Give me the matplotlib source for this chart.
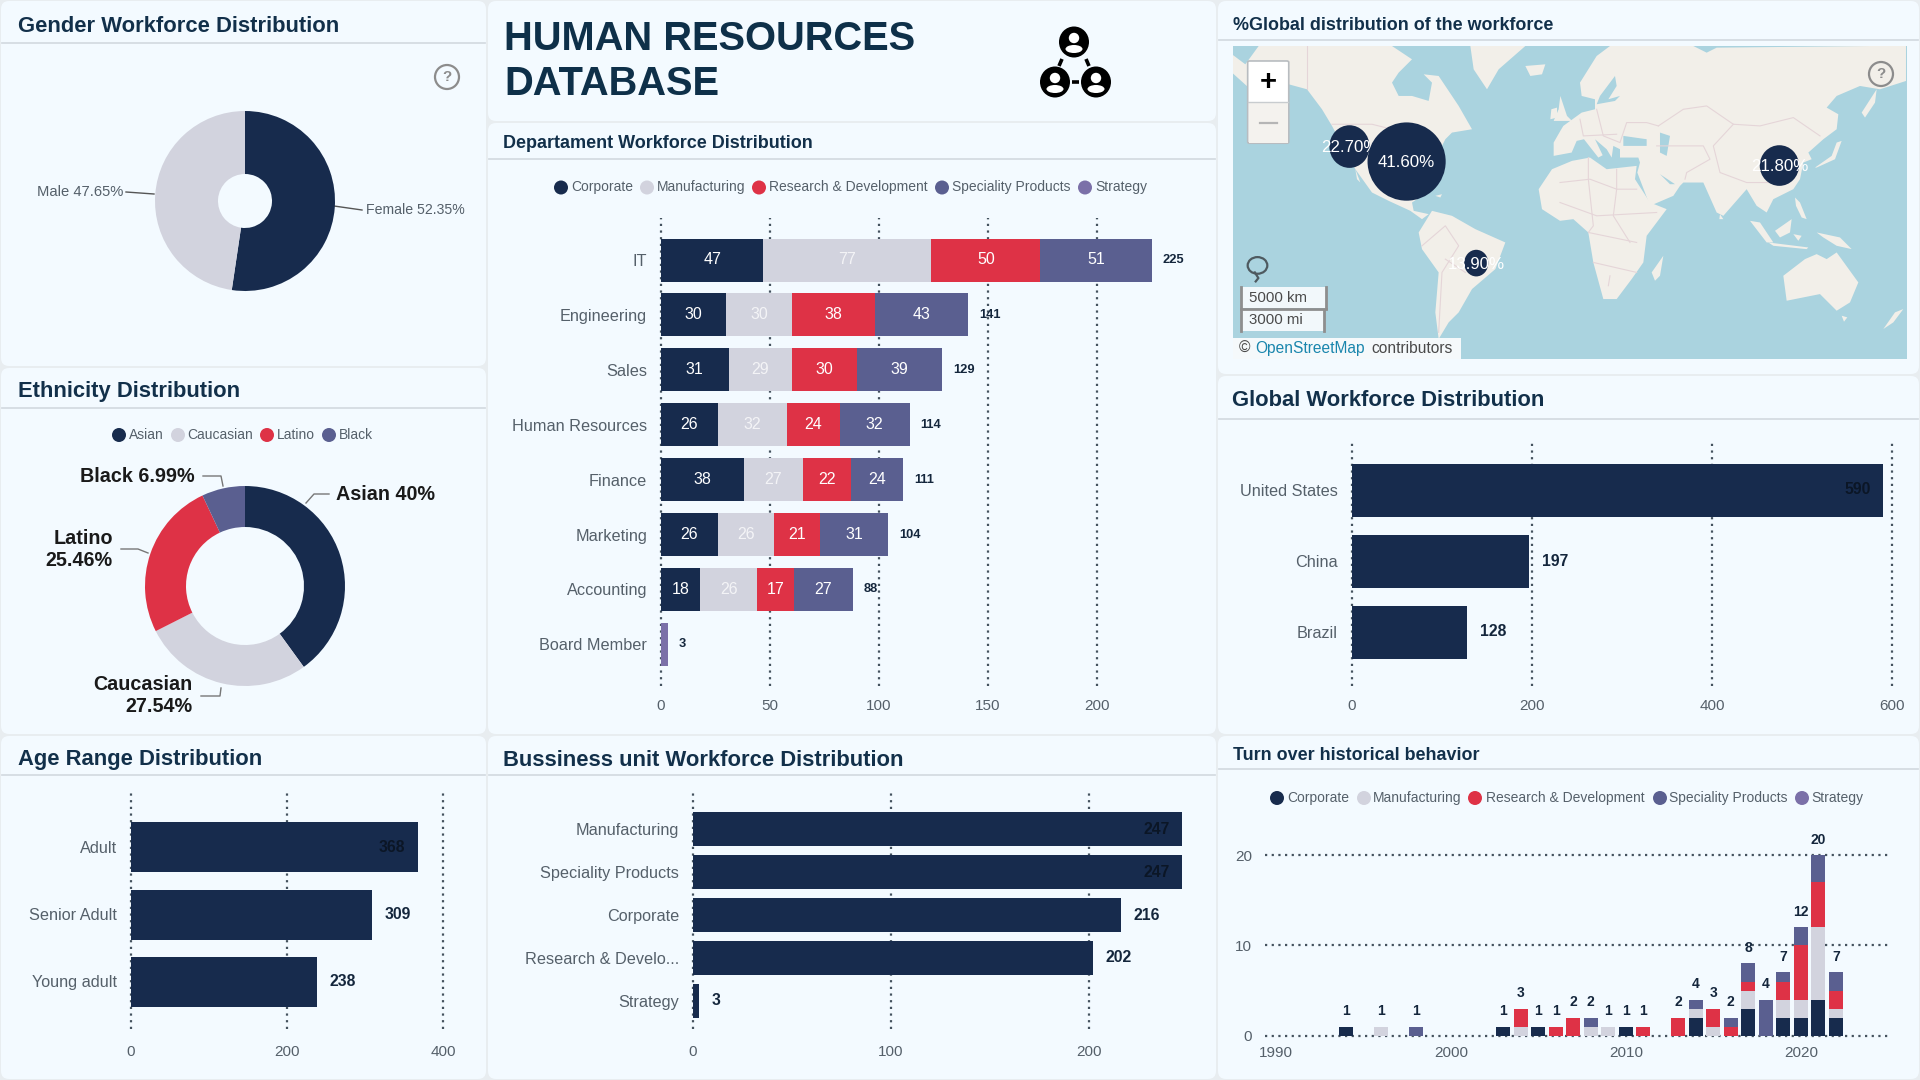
import matplotlib
matplotlib.use("Agg")
import matplotlib.pyplot as plt
from matplotlib.patches import FancyBboxPatch, Circle, Ellipse, Polygon, Rectangle
import numpy as np

plt.rcParams['font.family'] = ['Liberation Sans', 'DejaVu Sans']

NAVY, LIGHT, RED, SLATE, PURPLE = '#172B4D', '#D2D3DE', '#DE3246', '#5A5F90', '#7B70A8'
PANEL, GAP = '#F3FAFF', '#E8EDF0'
TITLE_C, TICK_C, GRID_C = '#12304A', '#55606A', '#44525E'
DOTS = (0, (1, 2))

# ---------- data ----------
gender_labels = ['Female', 'Male']
gender_values = [52.35, 47.65]

eth_labels = ['Asian', 'Caucasian', 'Latino', 'Black']
eth_values = [40.0, 27.54, 25.46, 6.99]

units = ['Corporate', 'Manufacturing', 'Research & Development', 'Speciality Products', 'Strategy']

dept_names = ['IT', 'Engineering', 'Sales', 'Human Resources', 'Finance', 'Marketing', 'Accounting', 'Board Member']
dept_corporate = [47, 30, 31, 26, 38, 26, 18, 0]
dept_manufacturing = [77, 30, 29, 32, 27, 26, 26, 0]
dept_research = [50, 38, 30, 24, 22, 21, 17, 0]
dept_speciality = [51, 43, 39, 32, 24, 31, 27, 0]
dept_strategy = [0, 0, 0, 0, 0, 0, 0, 3]

age_names = ['Adult', 'Senior Adult', 'Young adult']
age_values = [368, 309, 238]

bu_names = ['Manufacturing', 'Speciality Products', 'Corporate', 'Research & Develo...', 'Strategy']
bu_values = [247, 247, 216, 202, 3]

country_names = ['United States', 'China', 'Brazil']
country_values = [590, 197, 128]

map_labels = ['41.60%', '22.70%', '21.80%', '13.90%']

years = [1994, 1996, 1998, 2003, 2004, 2005, 2006, 2007, 2008, 2009, 2010, 2011,
         2013, 2014, 2015, 2016, 2017, 2018, 2019, 2020, 2021, 2022]
turn_corporate = [1, 0, 0, 1, 0, 1, 0, 0, 0, 0, 1, 0, 0, 2, 0, 0, 3, 0, 2, 2, 4, 2]
turn_manufacturing = [0, 1, 0, 0, 1, 0, 0, 0, 1, 1, 0, 0, 0, 1, 1, 0, 2, 0, 2, 2, 8, 1]
turn_research = [0, 0, 0, 0, 2, 0, 1, 2, 0, 0, 0, 1, 2, 0, 2, 1, 1, 0, 2, 6, 5, 2]
turn_speciality = [0, 0, 1, 0, 0, 0, 0, 0, 1, 0, 0, 0, 0, 1, 0, 1, 2, 4, 1, 2, 3, 2]

# ---------- frame ----------
fig = plt.figure(figsize=(19.2, 10.8), dpi=100, facecolor=GAP)
bg = fig.add_axes([0, 0, 1, 1], zorder=0)
bg.set_xlim(0, 1920); bg.set_ylim(1080, 0); bg.axis('off')


def px_axes(l, t, r, b, z=2):
    ax = fig.add_axes([l / 1920, 1 - b / 1080, (r - l) / 1920, (b - t) / 1080], zorder=z)
    ax.patch.set_alpha(0)
    return ax


def panel(l, t, r, b, sep=None, title=None, size=14.3, ty=None, tx=None):
    bg.add_patch(FancyBboxPatch((l + 5, t + 5), r - l - 10, b - t - 10,
                                boxstyle='round,pad=4,rounding_size=8', fc=PANEL, ec='none'))
    if sep:
        bg.plot([l + 2, r - 2], [sep, sep], color='#D5DCE2', lw=1.3)
    if title:
        bg.text(tx, ty, title, fontsize=size, fontweight='bold', color=TITLE_C, va='center', ha='left')


panel(0, 0, 487, 367, 43, 'Gender Workforce Distribution', 15.8, 27, 18)
panel(0, 367, 487, 735, 408, 'Ethnicity Distribution', 15.8, 392, 18)
panel(0, 735, 487, 1080, 775, 'Age Range Distribution', 15.8, 760, 18)
panel(487, 0, 1217, 122)
panel(487, 122, 1217, 735, 159, 'Departament Workforce Distribution', 13, 144, 503)
panel(487, 735, 1217, 1080, 775, 'Bussiness unit Workforce Distribution', 15.8, 760, 503)
panel(1217, 0, 1920, 375, 40, '%Global distribution of the workforce', 12.9, 25, 1233)
panel(1217, 375, 1920, 735, 419, 'Global Workforce Distribution', 15.8, 400, 1232)
panel(1217, 735, 1920, 1080, 769, 'Turn over historical behavior', 12.9, 756, 1233)

# header
bg.text(504, 39, 'HUMAN RESOURCES', fontsize=28.7, fontweight='bold', color='#0E3049', va='center')
bg.text(504, 84, 'DATABASE', fontsize=28.7, fontweight='bold', color='#0E3049', va='center')
for cx, cy in [(1074, 42), (1055, 82), (1096, 82)]:
    bg.add_patch(Ellipse((cx, cy), 30, 31, fc='black', ec='none'))
    bg.add_patch(Circle((cx, cy - 4), 5.2, fc='white', ec='none'))
    bg.add_patch(Ellipse((cx, cy + 7), 17, 8, fc='white', ec='none'))
bg.plot([1062, 1059], [59, 66], color='black', lw=2.6, solid_capstyle='butt')
bg.plot([1086, 1089], [59, 66], color='black', lw=2.6, solid_capstyle='butt')
bg.plot([1072, 1079], [82, 82], color='black', lw=2.6, solid_capstyle='butt')


def help_icon(cx, cy):
    bg.add_patch(Circle((cx, cy), 12, fc='none', ec='#8C8C8C', lw=1.6, zorder=5))
    bg.text(cx, cy, '?', fontsize=11, fontweight='bold', color='#8C8C8C', ha='center', va='center', zorder=5)


help_icon(447, 77)


def legend(items):
    for name, color, cx, tx, y in items:
        bg.add_patch(Circle((cx, y), 7, fc=color, ec='none'))
        bg.text(tx, y, name, fontsize=10, color=TICK_C, va='center', ha='left')


unit_colors = [NAVY, LIGHT, RED, SLATE, PURPLE]
dept_cx = [561, 647, 759, 942, 1085]
dept_tx = [571, 657, 769, 952, 1095]
legend([(n, c, a, b, 187.5) for n, c, a, b in zip(units, unit_colors, dept_cx, dept_tx)])
turn_cx = [1277, 1364, 1475, 1660, 1802]
turn_tx = [1287, 1373, 1486, 1669, 1811]
legend([(n, c, a, b, 798) for n, c, a, b in zip(units, unit_colors, turn_cx, turn_tx)])
eth_cx = [119, 178, 267, 329]
eth_tx = [129, 187, 277, 339]
legend([(n, c, a, b, 435) for n, c, a, b in zip(eth_labels, [NAVY, LIGHT, RED, SLATE], eth_cx, eth_tx)])

# ---------- pies ----------
ax = px_axes(245 - 90, 201 - 90, 245 + 90, 201 + 90)
ax.pie(gender_values, colors=[NAVY, LIGHT], startangle=90, counterclock=False, radius=1,
       wedgeprops=dict(width=1 - 27 / 90))
ax.set_xlim(-1, 1); ax.set_ylim(-1, 1)
bg.plot([334, 362], [206, 210], color='#555555', lw=1)
bg.plot([126, 154], [192, 194], color='#555555', lw=1)
bg.text(366, 210, f'{gender_labels[0]} {gender_values[0]:.2f}%', fontsize=10.2, color=TICK_C, va='center')
bg.text(123, 192.5, f'{gender_labels[1]} {gender_values[1]:.2f}%', fontsize=10.6, color=TICK_C, va='center', ha='right')

ax = px_axes(245 - 100, 586 - 100, 245 + 100, 586 + 100)
ax.pie(eth_values, colors=[NAVY, LIGHT, RED, SLATE], startangle=90, counterclock=False, radius=1,
       wedgeprops=dict(width=1 - 59 / 100))
ax.set_xlim(-1, 1); ax.set_ylim(-1, 1)
lab = dict(fontsize=14.2, fontweight='semibold', color='#1A1A1A', va='center')
bg.text(195, 476, f'{eth_labels[3]} {eth_values[3]:.2f}%', ha='right', **lab)
bg.text(336, 495, f'{eth_labels[0]} {eth_values[0]:.0f}%', ha='left', **lab)
bg.text(113, 538, eth_labels[2], ha='right', **lab)
bg.text(113, 561, f'{eth_values[2]:.2f}%', ha='right', **lab)
bg.text(193, 685, eth_labels[1], ha='right', **lab)
bg.text(193, 707, f'{eth_values[1]:.2f}%', ha='right', **lab)
for xs, ys in [([203, 221, 223], [476, 476, 486]), ([306, 314, 329], [503, 494, 494]),
               ([121, 138, 148], [549, 549, 553]), ([201, 220, 221], [696, 696, 688])]:
    bg.plot(xs, ys, color='#777777', lw=1)


# ---------- bars ----------
def style_bar_axes(ax, ticks, xpad):
    for s in ax.spines.values():
        s.set_visible(False)
    ax.set_xticks(ticks)
    ax.tick_params(axis='both', length=0, labelcolor=TICK_C)
    ax.tick_params(axis='y', pad=10, labelsize=11.7)
    ax.tick_params(axis='x', pad=xpad, labelsize=11)
    ax.set_axisbelow(True)
    ax.grid(axis='x', color=GRID_C, lw=1.6, ls=DOTS)
    for l in ax.get_xgridlines():
        l.set_clip_on(False)


def row_axes(x0, xr, unit_px, t, b, c0, sp):
    ax = px_axes(x0, t, xr, b)
    ax.set_xlim(0, (xr - x0) / unit_px)
    ax.set_ylim((b - c0) / sp, (t - c0) / sp)
    return ax


def single_bars(names, values, x0, xr, unit_px, t, b, c0, sp, h, ticks, inside_limit, xpad):
    ax = row_axes(x0, xr, unit_px, t, b, c0, sp)
    y = np.arange(len(names))
    ax.barh(y, values, height=h / sp, color=NAVY)
    style_bar_axes(ax, ticks, xpad)
    ax.set_yticks(y, names)
    for i, v in enumerate(values):
        if v >= inside_limit:
            ax.annotate(str(v), (v, i), xytext=(-9, 0), textcoords='offset points', ha='right', va='center',
                        fontsize=11.3, fontweight='bold', color='#0B1626')
        else:
            ax.annotate(str(v), (v, i), xytext=(9, 0), textcoords='offset points', ha='left', va='center',
                        fontsize=11.3, fontweight='bold', color='#14263C')
    return ax


single_bars(age_names, age_values, 131, 450, 0.78, 793, 1029, 847.5, 67, 50, [0, 200, 400], 350, 11.5)
single_bars(bu_names, bu_values, 693, 1195, 1.98, 793, 1029, 829.5, 42.8, 34, [0, 100, 200], 240, 11.5)
single_bars(country_names, country_values, 1352, 1895, 0.9, 441, 686, 490, 71, 53, [0, 200, 400, 600], 500, 9)

# department stacked
ax = row_axes(661, 1190, 2.18, 218, 686, 260, 54.9)
y = np.arange(len(dept_names))
style_bar_axes(ax, [0, 50, 100, 150, 200], 9)
left = np.zeros(len(dept_names))
for vals, color in zip([dept_corporate, dept_manufacturing, dept_research, dept_speciality, dept_strategy], unit_colors):
    ax.barh(y, vals, left=left, height=43 / 54.9, color=color)
    for i, v in enumerate(vals):
        if v >= 10:
            ax.text(left[i] + v / 2, i, str(v), ha='center', va='center', fontsize=11.5, color='white',
                    alpha=0.75 if color == LIGHT else 1)
    left = left + np.array(vals)
ax.set_yticks(y, dept_names)
for i, total in enumerate(left):
    ax.annotate(f'{int(total)}', (total, i), xytext=(8, 0), textcoords='offset points', ha='left', va='center',
                fontsize=9.3, fontweight='bold', color='#14263C')

# turnover stacked
ax = px_axes(1264.6, 820, 1889.6, 1035.7)
ax.set_xlim(1990 + (1264.6 - 1275.8) / 17.5, 1990 + (1889.6 - 1275.8) / 17.5)
ax.set_ylim(0, (1035.7 - 820) / 9.03)
for s in ax.spines.values():
    s.set_visible(False)
ax.set_xticks([1990, 2000, 2010, 2020])
ax.set_yticks([0, 10, 20])
ax.tick_params(axis='both', length=0, labelsize=11, labelcolor=TICK_C)
ax.tick_params(axis='x', pad=7.5)
ax.tick_params(axis='y', pad=9)
ax.set_axisbelow(True)
ax.grid(axis='y', color=GRID_C, lw=1.6, ls=DOTS)
for l in ax.get_ygridlines():
    l.set_clip_on(False)
bottom = np.zeros(len(years))
for vals, color in zip([turn_corporate, turn_manufacturing, turn_research, turn_speciality], unit_colors):
    ax.bar(years, vals, bottom=bottom, width=0.82, color=color)
    bottom = bottom + np.array(vals)
for yr, total in zip(years, bottom):
    ax.annotate(f'{int(total)}', (yr, total), xytext=(0, 6), textcoords='offset points', ha='center', va='bottom',
                fontsize=10, fontweight='bold', color='#14263C')

# ---------- map ----------
m = px_axes(1232.5, 46, 1906.6, 359, z=3)
m.set_xlim(28, 1538); m.set_ylim(1078, 138); m.axis('off')
WATER, LAND = '#AAD3DF', '#F2EFE9'
m.add_patch(Rectangle((28, 138), 1510, 940, fc=WATER, ec='none'))


def Lp(pts):
    return [(28 + (x / 3 + 1232 - 1232.5) * 2.24, 138 + y) for x, y in pts]


def Rp(pts):
    return [(28 + (x / 3 + 1560 - 1232.5) * 2.24, 138 + y) for x, y in pts]


land_shapes = [
    Lp([(0, 25), (40, 55), (80, 0), (480, 0), (540, 40), (500, 80), (480, 110), (500, 150), (540, 150), (590, 165),
        (600, 110), (575, 85), (620, 90), (680, 180), (700, 215), (720, 250), (660, 260), (640, 280), (630, 300),
        (600, 430), (540, 470), (545, 495), (590, 505), (570, 520), (535, 495), (470, 465), (420, 440), (370, 370),
        (300, 240), (270, 190), (225, 130), (170, 115), (130, 90), (50, 125), (0, 80)]),
    Lp([(715, 0), (880, 0), (800, 70), (765, 130), (725, 70)]),
    Lp([(370, 370), (385, 410), (375, 400)]),
    Lp([(610, 450), (630, 445), (625, 455)]),
    Lp([(560, 560), (600, 495), (660, 510), (730, 550), (820, 590), (790, 670), (720, 730), (680, 800), (650, 830),
        (620, 880), (610, 800), (620, 680), (570, 610)]),
    Lp([(880, 60), (940, 55), (930, 85), (895, 90)]),
    Lp([(985, 150), (1005, 210), (1020, 225), (965, 225), (980, 190)]),
    Lp([(958, 190), (975, 185), (975, 215), (955, 220)]),
    Lp([(920, 430), (960, 370), (1020, 345)]) + Rp([(90, 335), (140, 370), (230, 360), (225, 400), (270, 470), (320, 490),
        (260, 570), (250, 650), (215, 700), (170, 760), (130, 760), (100, 650), (85, 560), (40, 520), (0, 525)]) + Lp([(930, 490)]),
    Lp([(965, 290), (985, 255)]) + Rp([(10, 240), (65, 200), (105, 190), (105, 160), (65, 150), (60, 110), (110, 30),
        (150, 0), (400, 0), (440, 20), (470, 5), (930, 0), (1038, 0), (1038, 105), (960, 130), (900, 120), (830, 150),
        (800, 185), (835, 205), (830, 250), (790, 280), (745, 320), (755, 340), (730, 350), (720, 400), (700, 430),
        (640, 460), (620, 500), (590, 480), (560, 430), (490, 510), (470, 500), (430, 410), (370, 410), (360, 420),
        (340, 450), (270, 480), (232, 380), (240, 350), (235, 335), (180, 335), (180, 310), (160, 300), (155, 335),
        (140, 310), (105, 280), (128, 328), (115, 335), (72, 280), (50, 285), (35, 320)]) + Lp([(965, 330)]),
    Rp([(905, 200), (950, 130), (945, 170), (915, 215)]),
    Rp([(765, 365), (815, 330), (830, 290), (845, 285), (825, 340), (770, 365)]),
    Rp([(570, 525), (600, 530), (640, 590), (620, 590)]),
    Rp([(625, 590), (745, 605), (740, 610), (640, 600)]),
    Rp([(645, 555), (695, 520), (690, 560), (660, 575)]),
    Rp([(705, 455), (720, 470), (740, 520), (725, 515), (708, 480)]),
    Rp([(700, 565), (725, 570), (715, 585)]),
    Rp([(770, 560), (840, 575), (875, 610), (830, 600), (790, 575)]),
    Rp([(670, 690), (735, 640), (770, 625), (800, 640), (830, 620), (895, 710), (870, 770), (830, 795), (780, 745), (680, 765)]),
    Rp([(845, 810), (862, 815), (852, 828)]),
    Rp([(1030, 790), (1000, 830), (970, 850), (1005, 800)]),
    Rp([(310, 630), (300, 690), (285, 705), (275, 680)]),
    Rp([(480, 505), (490, 520), (478, 520)]),
]
for poly in land_shapes:
    m.add_patch(Polygon(poly, fc=LAND, ec='none'))
for poly in [Lp([(540, 0), (590, 0), (625, 60), (570, 65)]),
             Rp([(190, 270), (260, 280), (260, 300), (190, 300)]),
             Rp([(300, 260), (330, 270), (320, 330), (300, 320)]),
             Rp([(120, 150), (165, 90), (170, 120), (145, 160), (180, 150), (165, 165), (110, 175)]),
             Rp([(300, 385), (345, 415), (330, 415)])]:
    m.add_patch(Polygon(poly, fc=WATER, ec='none'))
border_lines = [
    Rp([(295, 240), (370, 190), (440, 180), (520, 235), (600, 240), (700, 215), (780, 270)]),
    Rp([(520, 235), (460, 300), (480, 380), (560, 410), (640, 410)]),
    Rp([(290, 300), (350, 300), (430, 300), (450, 340), (380, 380), (375, 400)]),
    Rp([(60, 220), (70, 270), (170, 265)]),
    Rp([(110, 190), (130, 270), (180, 290), (200, 230), (260, 230), (295, 240)]),
    Rp([(0, 410), (90, 400), (170, 430), (230, 430)]),
    Rp([(85, 335), (85, 400), (100, 540), (85, 560), (230, 590)]),
    Rp([(170, 370), (170, 430), (160, 510), (210, 590)]),
    Rp([(0, 470), (110, 510), (290, 500)]),
    Rp([(100, 650), (230, 680)]),
    Rp([(150, 690), (145, 720)]),
    Lp([(570, 600), (640, 540), (680, 600), (630, 680), (620, 860)]),
    Lp([(700, 680), (640, 640)]),
    Lp([(225, 0), (225, 130)]),
    Lp([(300, 235), (420, 235), (520, 260)]),
]
for b in border_lines:
    xs, ys = zip(*b)
    m.plot(xs, ys, color='#E5D5D8', lw=0.8, zorder=1.5)

bubbles = [(418, 485, 175, 235), (290, 440, 90, 128), (1253, 497, 88, 122), (574, 790, 54, 80)]
for idx, z in [(1, 3), (0, 4), (2, 3), (3, 3)]:
    bx, by, bw, bh = bubbles[idx]
    m.add_patch(Ellipse((bx, by), bw, bh, fc=NAVY, ec='none', zorder=z))
    m.text(bx, by + 3, map_labels[idx], color='white', fontsize=12.2, ha='center', va='center', zorder=z + 0.1)

# map controls
m.add_patch(FancyBboxPatch((64, 185), 88, 243, boxstyle='round,pad=2,rounding_size=4', fc='white', ec='#B8BCC0', lw=1.2, zorder=5))
m.add_patch(Rectangle((64, 306), 88, 122, fc='#F4F2EE', ec='none', zorder=5))
m.plot([62, 153], [306, 306], color='#C8CCCF', lw=1, zorder=5)
m.text(108, 247, '+', fontsize=21, ha='center', va='center', color='black', fontweight='bold', zorder=5)
m.plot([90, 128], [369, 369], color='#B5B5B5', lw=1.6, zorder=5)
m.add_patch(Ellipse((84, 797), 44, 50, fc='none', ec='#4E5A60', lw=1.6, zorder=5))
m.plot([78, 86, 80], [818, 835, 845], color='#4E5A60', lw=1.6, zorder=5)
for top, bot, right, txt in [(862, 925, 237, '5000 km'), (930, 993, 232, '3000 mi')]:
    m.add_patch(Rectangle((47, top), right - 47, bot - top, fc='#F2F8FB', ec='none', zorder=5))
    m.plot([47, 47], [top, bot], color='#8E8E8E', lw=2, zorder=5)
    m.plot([right, right], [top, bot], color='#8E8E8E', lw=2, zorder=5)
    m.text(64, (top + bot) / 2, txt, fontsize=10.8, color='#4A4A4A', va='center', zorder=6)
m.plot([47, 237], [927, 927], color='#8E8E8E', lw=2, zorder=5)
m.add_patch(Rectangle((28, 1015), 512, 63, fc='#F5F9FB', ec='none', zorder=5))
m.text(43, 1046, '©', fontsize=11.2, color='#4A4A4A', va='center', zorder=6)
m.text(80, 1046, 'OpenStreetMap', fontsize=11.2, color='#1A86AD', va='center', zorder=6)
m.text(339, 1046, 'contributors', fontsize=11.2, color='#4A4A4A', va='center', zorder=6)
m.add_patch(Circle((1481, 222), 0.01, visible=False))

over = px_axes(0, 0, 1920, 1080, z=4)
over.set_xlim(0, 1920); over.set_ylim(1080, 0); over.axis('off')
over.add_patch(Circle((1881, 74), 12, fc='none', ec='#8C8C8C', lw=1.6))
over.text(1881, 74, '?', fontsize=11, fontweight='bold', color='#8C8C8C', ha='center', va='center')

fig.savefig('out.png', dpi=100, facecolor=fig.get_facecolor())
